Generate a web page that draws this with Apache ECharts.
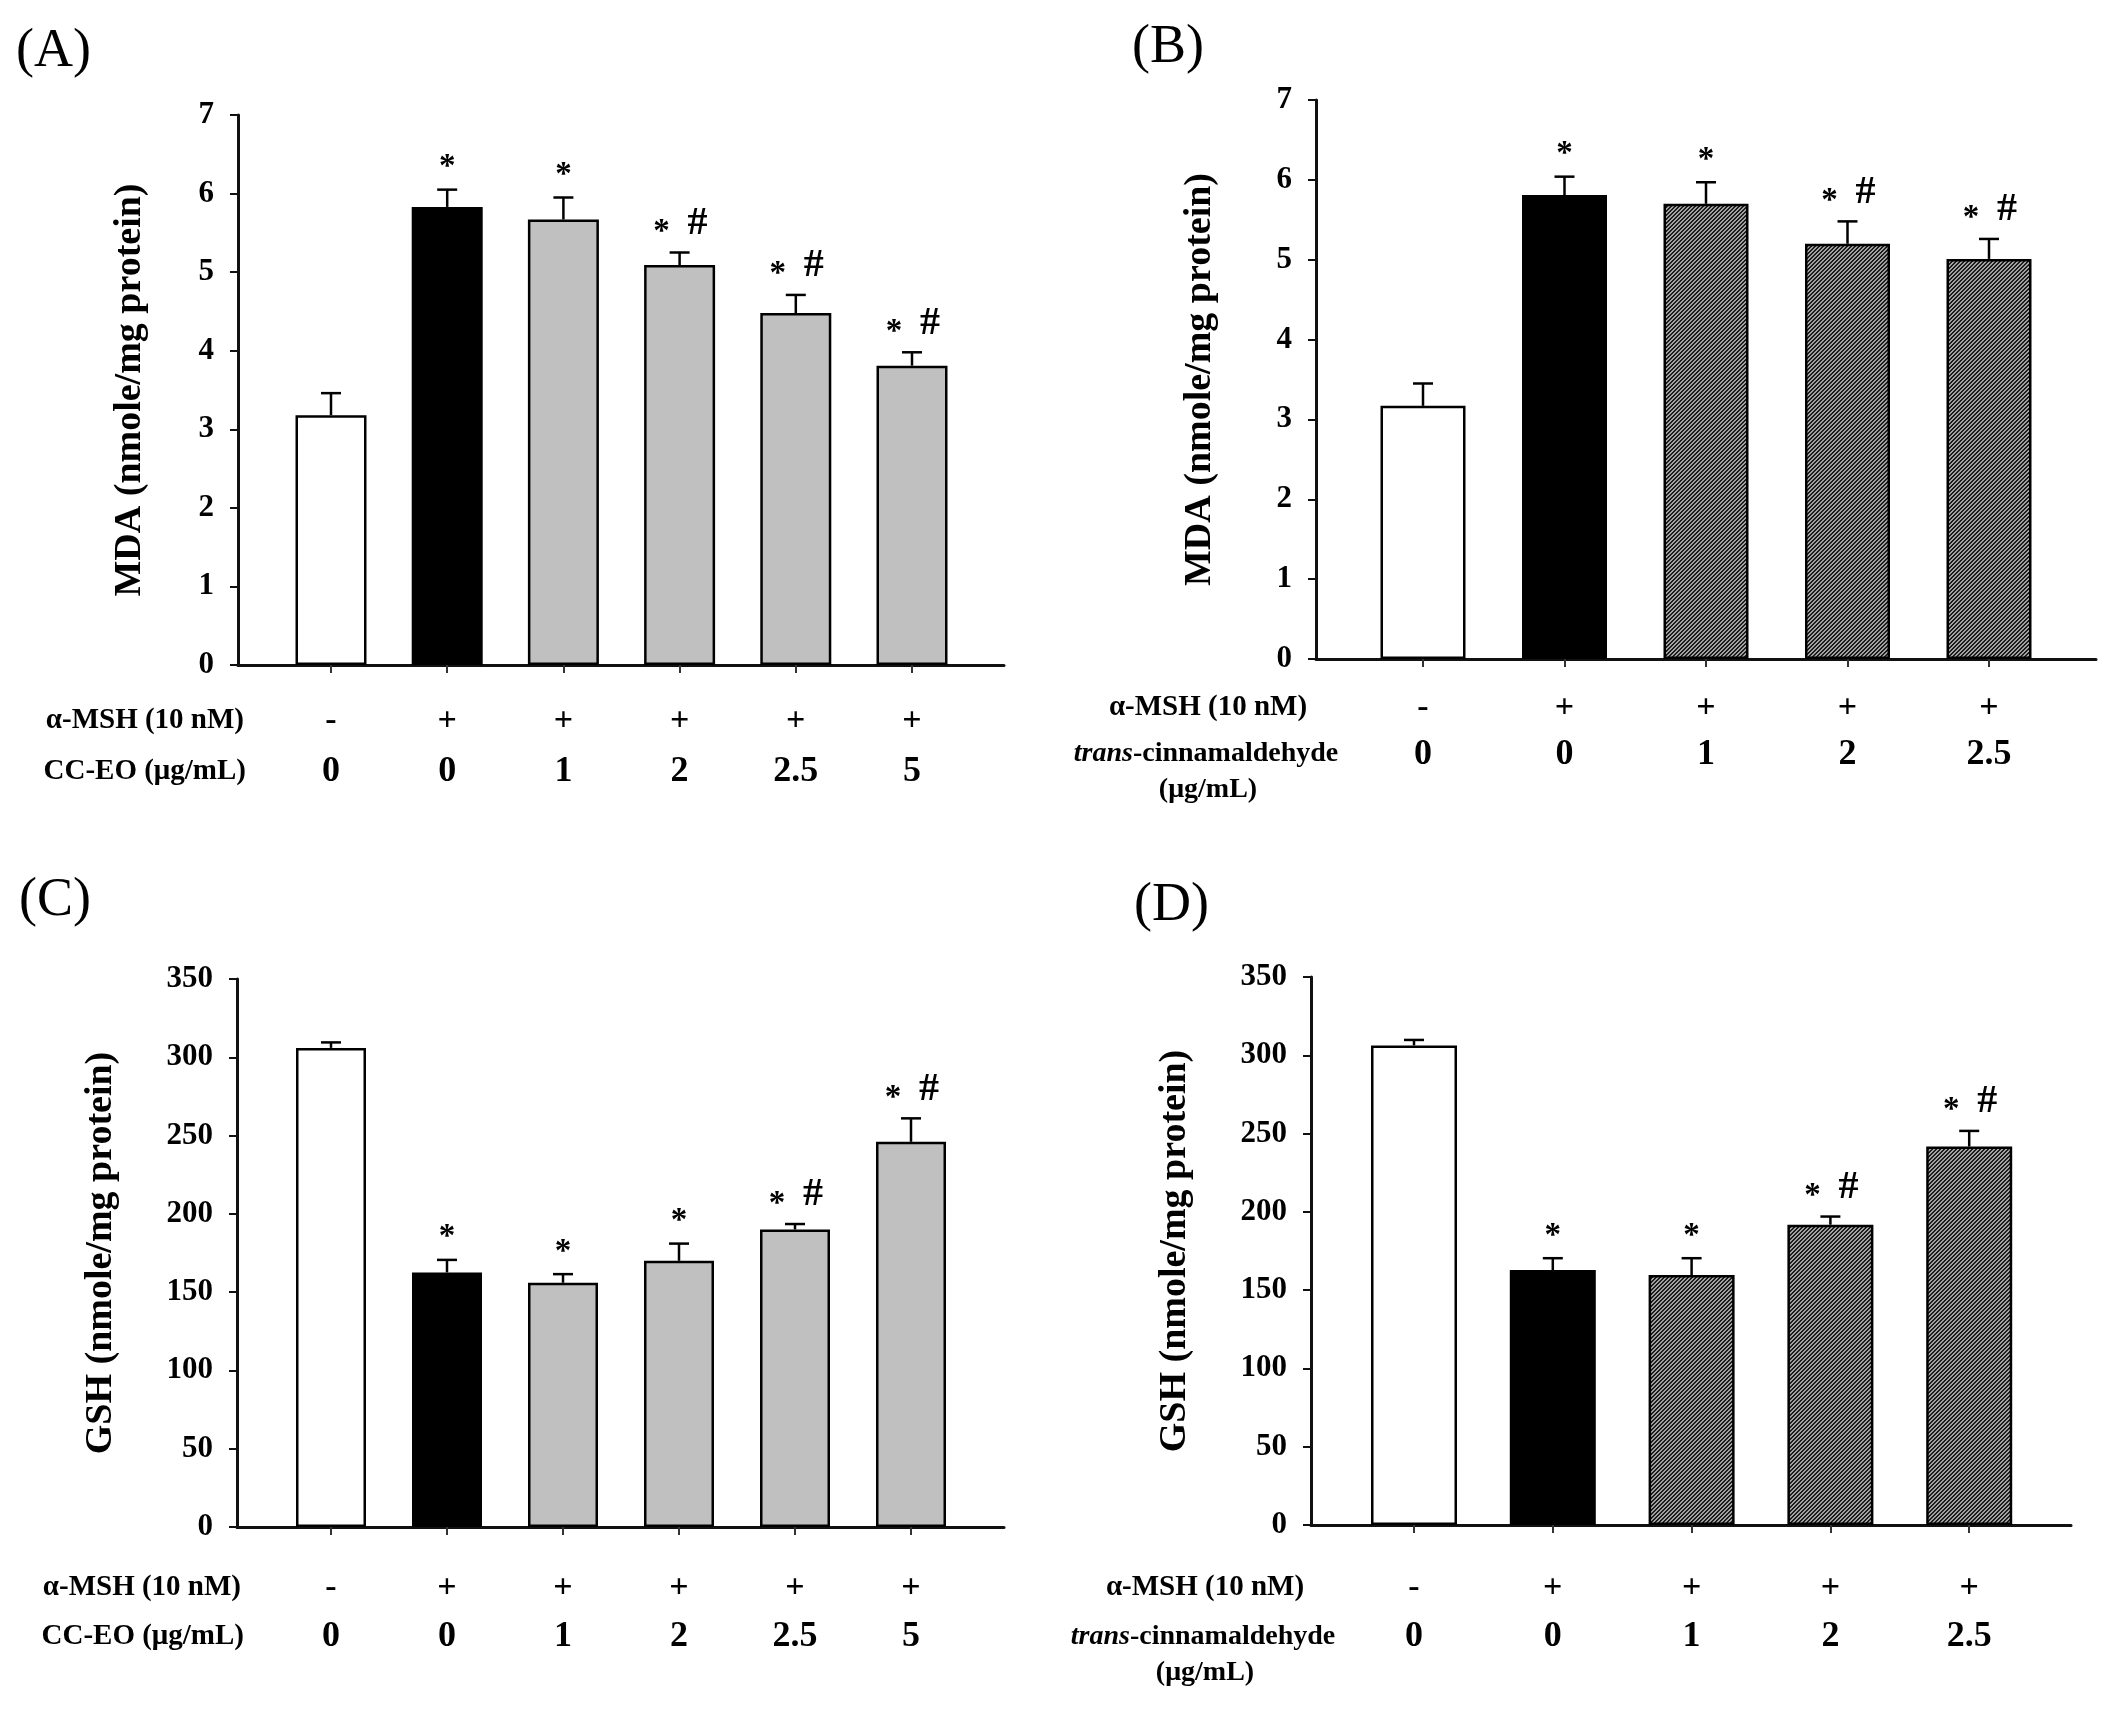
<!DOCTYPE html>
<html>
<head>
<meta charset="utf-8">
<title>MDA / GSH</title>
<style>
  html, body { margin: 0; padding: 0; width: 100%; height: 100%; background: #fff; }
  #main { width: 2123px; height: 1709px; }
</style>
<script src="https://cdn.jsdelivr.net/npm/echarts@6/dist/echarts.min.js"></script>
</head>
<body>
<div id="main"></div>
<script>
// ---- data ----
var ccDose = ['0', '0', '1', '2', '2.5', '5'];
var ccMsh  = ['-', '+', '+', '+', '+', '+'];
var tcDose = ['0', '0', '1', '2', '2.5'];
var tcMsh  = ['-', '+', '+', '+', '+'];

var mdaCC    = [3.18, 5.83, 5.67, 5.09, 4.48, 3.81];
var mdaCCErr = [0.28, 0.22, 0.28, 0.16, 0.23, 0.17];
var mdaTC    = [3.17, 5.81, 5.70, 5.20, 5.01];
var mdaTCErr = [0.28, 0.23, 0.27, 0.28, 0.25];

var gshCC    = [306, 162.6, 156, 170, 190, 246];
var gshCCErr = [3.5, 8, 5.5, 11, 3.5, 15];
var gshTC    = [306.3, 162.8, 159.6, 191.8, 241.7];
var gshTCErr = [3.5, 7.6, 10.8, 5.2, 10];

var marksA = ['', '*', '*', '*#', '*#', '*#'];
var marksB = ['', '*', '*', '*#', '*#'];
var marksC = ['', '*', '*', '*', '*#', '*#'];
var marksD = ['', '*', '*', '*#', '*#'];

var mdaName = 'MDA (nmole/mg protein)';
var gshName = 'GSH (nmole/mg protein)';

var FONT = '"Liberation Serif", "Times New Roman", serif';

// hatch tile for trans-cinnamaldehyde bars ("/" stripes, 4px period)
var tile = document.createElement('canvas');
tile.width = 8; tile.height = 8;
var tc = tile.getContext('2d');
for (var yy = 0; yy < 8; yy++) {
    for (var xx = 0; xx < 8; xx++) {
        tc.fillStyle = ((xx + yy) % 4 < 2) ? '#1c1c1c' : '#a2a2a2';
        tc.fillRect(xx, yy, 1, 1);
    }
}
var hatch = { image: tile, repeat: 'repeat' };

var panels = [
    { values: mdaCC, errs: mdaCCErr, marks: marksA, doses: ccDose, msh: ccMsh, kind: 'cc', yName: mdaName,
      axisX: 238, top: 115, endX: 1004, zeroY: 665, c0: 331, step: 116.2, barW: 71,
      max: 7, interval: 1, nameGap: 89, labelMargin: 31, aLH: 50, bLH: 52 },
    { values: mdaTC, errs: mdaTCErr, marks: marksB, doses: tcDose, msh: tcMsh, kind: 'tc', yName: mdaName,
      axisX: 1316, top: 100, endX: 2096, zeroY: 659, c0: 1423, step: 141.5, barW: 85,
      max: 7, interval: 1, nameGap: 97, labelMargin: 25, aLH: 48, bLH: 45 },
    { values: gshCC, errs: gshCCErr, marks: marksC, doses: ccDose, msh: ccMsh, kind: 'cc', yName: gshName,
      axisX: 237, top: 979, endX: 1004, zeroY: 1527, c0: 331, step: 116, barW: 70,
      max: 350, interval: 50, nameGap: 117, labelMargin: 36, aLH: 50, bLH: 48 },
    { values: gshTC, errs: gshTCErr, marks: marksD, doses: tcDose, msh: tcMsh, kind: 'tc', yName: gshName,
      axisX: 1311, top: 977, endX: 2071, zeroY: 1525, c0: 1414, step: 138.8, barW: 86,
      max: 350, interval: 50, nameGap: 117, labelMargin: 38, aLH: 50, bLH: 48 }
];

var grids = [], xAxes = [], yAxes = [], series = [];
var lineStyle = { color: '#111', width: 3 };

function fillFor(p, i) {
    if (i === 0) return '#ffffff';
    if (i === 1) return '#000000';
    return p.kind === 'cc' ? '#c0c0c0' : hatch;
}

panels.forEach(function (p, k) {
    var h = p.zeroY - p.top;
    var bi = 2 * k + 1;
    // frame grid: the axis lines
    grids.push({ left: p.axisX, top: p.top, width: p.endX - p.axisX, height: h });
    // bar grid: categories
    grids.push({ left: p.c0 - p.step / 2, top: p.top, width: p.step * p.values.length, height: h });

    xAxes.push({
        gridIndex: 2 * k, type: 'value', min: 0, max: 1,
        axisLine: { show: true, lineStyle: lineStyle },
        axisTick: { show: false }, axisLabel: { show: false }, splitLine: { show: false }
    });
    yAxes.push({
        gridIndex: 2 * k, type: 'value', min: 0, max: p.max, interval: p.interval,
        name: p.yName, nameLocation: 'middle', nameGap: p.nameGap,
        nameTextStyle: { fontFamily: FONT, fontWeight: 'bold', fontSize: 38, color: '#000' },
        axisLine: { show: true, lineStyle: lineStyle },
        axisTick: { show: true, length: 8, lineStyle: { color: '#111', width: 2 } },
        axisLabel: { margin: 24, fontFamily: FONT, fontWeight: 'bold', fontSize: 31, color: '#000' },
        splitLine: { show: false }
    });
    xAxes.push({
        gridIndex: bi, type: 'category', data: p.doses,
        axisLine: { show: false },
        axisTick: { show: true, alignWithLabel: true, length: 8, lineStyle: { color: '#333', width: 2 } },
        axisLabel: {
            interval: 0, margin: p.labelMargin,
            formatter: function (v, i) { return '{a|' + p.msh[i] + '}\n{b|' + v + '}'; },
            rich: {
                a: { fontFamily: FONT, fontSize: 34, fontWeight: 'bold', color: '#000', lineHeight: p.aLH },
                b: { fontFamily: FONT, fontSize: 36, fontWeight: 'bold', color: '#000', lineHeight: p.bLH }
            }
        },
        splitLine: { show: false }
    });
    yAxes.push({ gridIndex: bi, type: 'value', min: 0, max: p.max, show: false });

    series.push({
        type: 'bar', xAxisIndex: bi, yAxisIndex: bi, barWidth: p.barW,
        itemStyle: { borderColor: '#000', borderWidth: 2.5 },
        data: p.values.map(function (v, i) { return { value: v, itemStyle: { color: fillFor(p, i) } }; })
    });

    series.push({
        type: 'custom', xAxisIndex: bi, yAxisIndex: bi, z: 5,
        data: p.values.map(function (v, i) { return [i, v, p.errs[i]]; }),
        renderItem: function (params, api) {
            var i = api.value(0), m = api.value(1), e = api.value(2);
            var b = api.coord([i, m]), t = api.coord([i, m + e]);
            var st = { stroke: '#000', lineWidth: 2.5 };
            var kids = [
                { type: 'line', shape: { x1: b[0], y1: b[1], x2: t[0], y2: t[1] }, style: st },
                { type: 'line', shape: { x1: t[0] - 10, y1: t[1], x2: t[0] + 10, y2: t[1] }, style: st }
            ];
            var mark = p.marks[params.dataIndex];
            var starFont = 'bold 33px ' + FONT, hashFont = 'bold 40px ' + FONT;
            if (mark === '*') {
                kids.push({ type: 'text', x: t[0], y: t[1] - 22,
                    style: { text: '*', font: starFont, fill: '#000', align: 'center', verticalAlign: 'middle' } });
            } else if (mark === '*#') {
                kids.push({ type: 'text', x: t[0] - 18, y: t[1] - 20,
                    style: { text: '*', font: starFont, fill: '#000', align: 'center', verticalAlign: 'middle' } });
                kids.push({ type: 'text', x: t[0] + 18, y: t[1] - 29,
                    style: { text: '#', font: hashFont, fill: '#000', align: 'center', verticalAlign: 'middle' } });
            }
            return { type: 'group', children: kids };
        }
    });
});

function txt(x, y, text, align, size, extra) {
    var s = { text: text, x: x, y: y, fill: '#000', align: align, verticalAlign: 'middle',
              fontFamily: FONT, fontSize: size, fontWeight: 'bold' };
    if (extra) for (var key in extra) s[key] = extra[key];
    return { type: 'text', style: s };
}
var italicRich = { rich: { i: { fontFamily: FONT, fontSize: 28, fontWeight: 'bold', fontStyle: 'italic', fill: '#000' } } };

var graphic = [
    txt(16, 52, '(A)', 'left', 54, { fontWeight: 'normal' }),
    txt(1132, 48, '(B)', 'left', 54, { fontWeight: 'normal' }),
    txt(19, 901, '(C)', 'left', 54, { fontWeight: 'normal' }),
    txt(1134, 906, '(D)', 'left', 54, { fontWeight: 'normal' }),

    txt(244, 721, 'α-MSH (10 nM)', 'right', 29),
    txt(246, 772, 'CC-EO (μg/mL)', 'right', 29),
    txt(1208, 708, 'α-MSH (10 nM)', 'center', 29),
    txt(1206, 754, '{i|trans}-cinnamaldehyde', 'center', 28, italicRich),
    txt(1208, 790, '(μg/mL)', 'center', 28),

    txt(241, 1588, 'α-MSH (10 nM)', 'right', 29),
    txt(244, 1637, 'CC-EO (μg/mL)', 'right', 29),
    txt(1205, 1588, 'α-MSH (10 nM)', 'center', 29),
    txt(1203, 1637, '{i|trans}-cinnamaldehyde', 'center', 28, italicRich),
    txt(1205, 1673, '(μg/mL)', 'center', 28)
];

var myChart = echarts.init(document.getElementById('main'));
myChart.setOption({
    animation: false,
    backgroundColor: '#fff',
    grid: grids,
    xAxis: xAxes,
    yAxis: yAxes,
    series: series,
    graphic: graphic
});
</script>
</body>
</html>
